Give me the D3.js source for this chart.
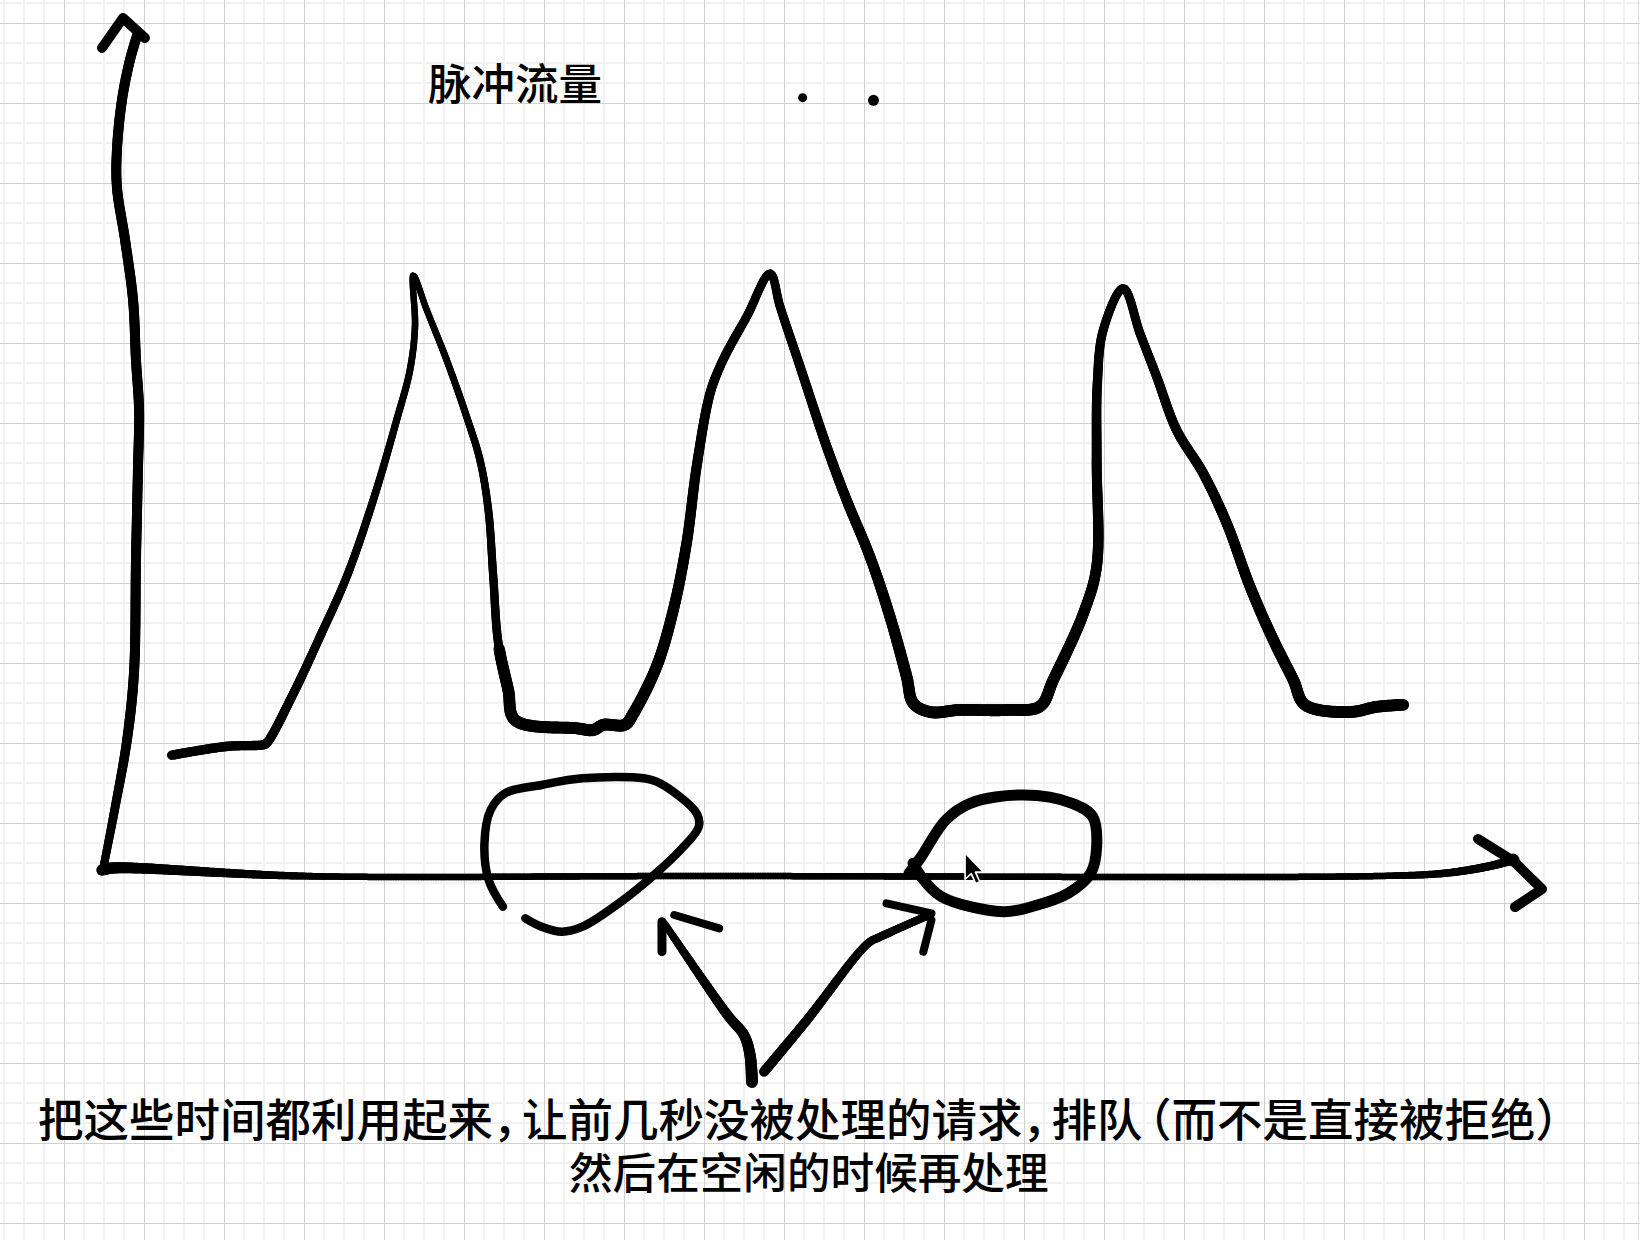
<!DOCTYPE html>
<html>
<head>
<meta charset="utf-8">
<script src="https://cdn.jsdelivr.net/npm/d3@7"></script>
<style>
  html, body { margin: 0; padding: 0; background: #fff; }
  svg { display: block; }
</style>
</head>
<body>
<div id="chart"></div>
<script>
// ---------------- data (time units on x, traffic units on y) ----------------
const titleText = "脉冲流量";
const captionLines = ["把这些时间都利用起来，让前几秒没被处理的请求，排队（而不是直接被拒绝）", "然后在空闲的时候再处理"];

// pulse traffic curve
const pulseTime = [5.12, 9.05, 11.66, 11.9, 13.81, 15.71, 17.62, 19.52, 21.19, 22.14, 22.5, 22.38,
  23.34, 24.76, 26.19, 27.14, 27.74, 28.09, 28.45, 29.16, 29.64, 34.05, 35.24, 35.95, 37.5,
  38.09, 39.76, 40.95, 41.9, 42.62, 43.57, 44.29, 45.0, 46.19, 47.86,
  48.57, 50.0, 51.9, 53.33, 55.0, 56.43, 57.62, 58.09, 59.29, 61.43, 64.76, 67.14,
  68.09, 70.24, 71.19, 71.19, 71.24, 71.66, 73.09,
  74.29, 75.48, 76.9, 78.81, 80.48, 82.14, 83.81, 85.24, 86.07, 89.29, 91.19, 93.09];
const pulseTraffic = [14.6, 15.7, 15.9, 16.1, 22.3, 29.4, 36.9, 46.5, 56.5, 62.75, 68.2, 74.6,
  70.25, 64.0, 56.9, 51.5, 45.25, 36.9, 28.6, 22.75, 19.0, 17.96, 17.75, 18.4, 18.4,
  19.8, 25.7, 32.75, 41.1, 50.7, 59.8, 63.2, 65.7, 69.4, 74.8,
  70.7, 63.2, 53.2, 46.5, 39.4, 31.9, 24.4, 21.1, 20.0, 20.25, 20.25, 20.7,
  24.0, 32.3, 38.2, 51.5, 61.1, 67.75, 72.96,
  67.3, 61.9, 55.25, 49.8, 43.6, 35.7, 29.0, 24.0, 20.9, 20.0, 20.65, 20.9];

// hand-drawn axes
const yAxisTime  = [0.21, 1.07, 1.93, 2.43, 2.57, 2.71, 2.79, 2.57, 2.36, 1.79, 1.21, 1.21, 1.57, 2.14, 2.71];
const yAxisValue = [0.25, 8, 16.5, 25, 39, 50.25, 57.75, 64, 71.5, 79, 85.6, 90.25, 96.5, 101.5, 104.9];
const yArrowTime  = [0.14, 1.64, 3.21];
const yArrowValue = [103, 106.75, 104.25];
const xAxisTime  = [0.14, 0.93, 14.29, 42.86, 91.43, 96.21, 99.29, 100.93];
const xAxisValue = [0.25, 0.5, -0.5, -0.5, -0.5, -0.125, 0.75, 1.5];
const xArrowTime  = [98.43, 101.0, 103.0, 101.07];
const xArrowValue = [4.125, 1.3, -2.125, -4.375];

// idle-period loops
const loopATime  = [30.38, 31.54, 33.0, 34.46, 37.38, 39.71, 41.46, 42.77, 42.62, 40.0, 38.84, 34.46, 31.54, 28.92, 27.9, 27.46, 27.76, 28.78];
const loopAValue = [-5.79, -6.84, -7.46, -6.84, -3.5, -0.16, 2.75, 5.66, 7.34, 11.09, 11.71, 11.71, 10.875, 9.84, 7.75, 3.59, -1.0, -4.34];
const loopBTime  = [57.79, 58.66, 60.41, 62.16, 65.95, 69.44, 70.91, 71.19, 70.76, 69.16, 66.53, 64.49, 60.11, 58.66, 58.08];
const loopBValue = [-0.16, 1.91, 6.5, 8.59, 9.625, 8.59, 6.91, 3.16, -0.16, -2.66, -4.34, -4.96, -3.09, -0.59, 1.09];

// pointer arrows
const arrowATime  = [46.57, 46.43, 46.0, 44.93, 43.21, 40.29];
const arrowAValue = [-26.25, -22.875, -20.375, -18.125, -13.875, -6.375];
const arrowABarb1Time = [40.14, 40.14];
const arrowABarb1Value = [-9.96, -6.21];
const arrowABarb2Time = [41.02, 44.23];
const arrowABarb2Value = [-5.375, -7.04];
const arrowBTime  = [47.43, 50.5, 54.86, 55.74, 59.24];
const arrowBValue = [-24.96, -18.5, -8.91, -8.09, -5.375];
const arrowBBarb1Time = [56.18, 59.39];
const arrowBBarb1Value = [-3.91, -5.16];
const arrowBBarb2Time = [58.81, 59.39];
const arrowBBarb2Value = [-9.96, -6.0];

// dots near title and mouse pointer
const dotTime  = [50.19, 55.25];
const dotValue = [96.79, 96.46];
const cursorTime = [61.79];
const cursorValue = [2.375];

// ---------------- drawing ----------------
const W = 1646, H = 1240;
const svg = d3.select("#chart").append("svg").attr("width", W).attr("height", H);

svg.append("rect").attr("width", W).attr("height", H).attr("fill", "#ffffff");

// grid paper
const grid = svg.append("g");
const gridRight = 1640;
d3.range(4, gridRight, 20).forEach(x => {
  const major = ((x - 64) % 80 + 80) % 80 === 0;
  if (!major) grid.append("line").attr("x1", x).attr("x2", x).attr("y1", 0).attr("y2", H)
    .attr("stroke", "#f1f1f1").attr("stroke-width", 2);
});
d3.range(3, H, 20).forEach(y => {
  const major = ((y - 23) % 80 + 80) % 80 === 0;
  if (!major) grid.append("line").attr("x1", 0).attr("x2", gridRight).attr("y1", y).attr("y2", y)
    .attr("stroke", "#f1f1f1").attr("stroke-width", 2);
});
d3.range(64, gridRight, 80).forEach(x => grid.append("line").attr("x1", x + 0.5).attr("x2", x + 0.5)
  .attr("y1", 0).attr("y2", H).attr("stroke", "#d0d0d0").attr("stroke-width", 1));
d3.range(23, H, 80).forEach(y => grid.append("line").attr("x1", 0).attr("x2", gridRight)
  .attr("y1", y + 0.5).attr("y2", y + 0.5).attr("stroke", "#d0d0d0").attr("stroke-width", 1));
grid.append("line").attr("x1", gridRight - 1.5).attr("x2", gridRight - 1.5).attr("y1", 0).attr("y2", H)
  .attr("stroke", "#dcdcdc").attr("stroke-width", 1);

// scales
const x = d3.scaleLinear().domain([0, 100]).range([100, 1500]);
const y = d3.scaleLinear().domain([0, 100]).range([872, 72]);

const zip = (ts, vs) => ts.map((t, i) => ({ t, v: vs[i] }));
const smooth = d3.line().x(d => x(d.t)).y(d => y(d.v)).curve(d3.curveCatmullRom.alpha(0.5));
const straight = d3.line().x(d => x(d.t)).y(d => y(d.v));

const ink = svg.append("g").attr("fill", "none").attr("stroke", "#000")
  .attr("stroke-linecap", "round").attr("stroke-linejoin", "round");

function stroke(ts, vs, w, gen = smooth) {
  ink.append("path").datum(zip(ts, vs)).attr("d", gen).attr("stroke-width", w);
}

// pen stroke with varying width: sample the smooth path, width from (t, v)
function penStroke(ts, vs, widthFn, gen = smooth, step = 2.5) {
  const tmp = svg.append("path").attr("d", gen(zip(ts, vs))).attr("fill", "none").attr("stroke", "none");
  const node = tmp.node();
  const L = node.getTotalLength();
  const n = Math.max(2, Math.ceil(L / step));
  const pts = d3.range(n + 1).map(i => node.getPointAtLength(L * i / n));
  tmp.remove();
  const g = svg.append("g").attr("stroke", "#000").attr("stroke-linecap", "round");
  for (let i = 0; i < pts.length - 1; i++) {
    const a = pts[i], b = pts[i + 1];
    const tm = x.invert((a.x + b.x) / 2), vm = y.invert((a.y + b.y) / 2);
    g.append("line").attr("x1", a.x).attr("y1", a.y).attr("x2", b.x).attr("y2", b.y)
      .attr("stroke-width", widthFn(tm, vm, i / pts.length));
  }
}

// axes
penStroke(yAxisTime, yAxisValue, (t, v) => v < 20 ? 8 + 2 * v / 20 : 10);
stroke(yArrowTime, yArrowValue, 10, straight);
penStroke(xAxisTime, xAxisValue, t => t < 16 ? 11.5 - 5 * (t / 16) : (t > 92 ? 6.5 + (t - 92) * 0.25 : 6.5));
stroke(xArrowTime, xArrowValue, 10, straight);
svg.append("circle").attr("cx", x(xAxisTime[xAxisTime.length - 1])).attr("cy", y(xAxisValue[xAxisValue.length - 1]))
  .attr("r", 6.5).attr("fill", "#000");

// pulse curve with pen-pressure width
penStroke(pulseTime, pulseTraffic, (t, v) => {
  const low = Math.max(0, 1 - v / 75);
  return t < 28.5 ? 6.2 + 4 * low : 8.5 + 4.5 * low;
});

// loops
stroke(loopATime, loopAValue, 8.5);
stroke(loopBTime, loopBValue, 11);

// pointer arrows
penStroke(arrowATime, arrowAValue, (t, v) => 7 + 5 * Math.min(1, Math.max(0, (-v - 6) / 20)));
stroke(arrowABarb1Time, arrowABarb1Value, 9, straight);
stroke(arrowABarb2Time, arrowABarb2Value, 8, straight);
penStroke(arrowBTime, arrowBValue, (t, v) => 8 + 2 * Math.min(1, Math.max(0, (-v - 6) / 18)));
stroke(arrowBBarb1Time, arrowBBarb1Value, 8, straight);
stroke(arrowBBarb2Time, arrowBBarb2Value, 8, straight);

// dots
svg.selectAll("circle.dot").data(zip(dotTime, dotValue)).join("circle").attr("class", "dot")
  .attr("cx", d => x(d.t)).attr("cy", d => y(d.v)).attr("r", (d, i) => i === 0 ? 4.5 : 5.5).attr("fill", "#000");

// mouse pointer
svg.selectAll("path.cursor").data(zip(cursorTime, cursorValue)).join("path").attr("class", "cursor")
  .attr("transform", d => `translate(${x(d.t)},${y(d.v)}) scale(1.25)`)
  .attr("d", "M0,0 L0,21 L5,16.5 L8.5,24.5 L11.8,23 L8.3,15.3 L14.8,15.3 Z")
  .attr("fill", "#000").attr("stroke", "#fff").attr("stroke-width", 1.3).attr("stroke-linejoin", "round");

// texts
const font = "'Noto Sans CJK SC', 'Noto Sans', sans-serif";
svg.append("text").attr("x", 428).attr("y", 100).attr("font-family", font).attr("font-size", 43.5)
  .attr("font-weight", 500).attr("fill", "#000").text(titleText);

// caption line 1: proportional punctuation like the original typeface
const fs1 = 45.5, punctAdv = 29;
let cursorX = 38;
const xs = [];
for (const ch of captionLines[0]) {
  if (ch === "（") { xs.push(cursorX + punctAdv - fs1); cursorX += punctAdv; }
  else if ("，）".includes(ch)) { xs.push(cursorX); cursorX += punctAdv; }
  else { xs.push(cursorX); cursorX += fs1; }
}
svg.append("text").attr("x", xs.map(v => v.toFixed(1)).join(" ")).attr("y", 1137)
  .attr("font-family", font).attr("font-size", fs1)
  .attr("font-weight", 500).attr("fill", "#000").text(captionLines[0]);
svg.append("text").attr("x", 569).attr("y", 1189).attr("font-family", font).attr("font-size", 43.6)
  .attr("font-weight", 500).attr("fill", "#000").text(captionLines[1]);
</script>
</body>
</html>
